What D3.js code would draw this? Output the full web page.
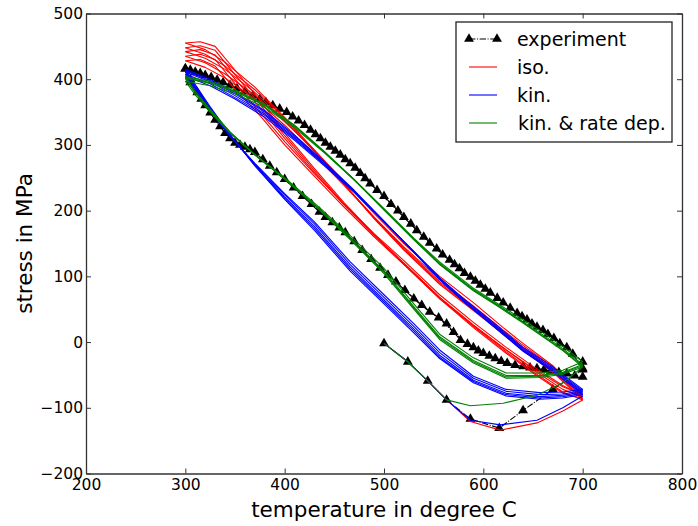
<!DOCTYPE html>
<html><head><meta charset="utf-8">
<script src="https://cdn.jsdelivr.net/npm/d3@7"></script>
<style>body{margin:0;background:#fff}svg{display:block}text{font-family:"DejaVu Sans",sans-serif;fill:#000}</style>
</head><body><svg id="c" width="698" height="526"></svg>
<script>
// ---- data (temperature °C, stress MPa) ----
const xTicks=[200,300,400,500,600,700,800];
const yTicks=[-200,-100,0,100,200,300,400,500];
const seriesNames=["experiment","iso.","kin.","kin. & rate dep."];
const seriesColors=["#000000","#ff0000","#0000ff","#008000"];

const expInitial=[[500,-2],[524,-30],[544,-59],[563,-88],[587,-117],[616,-131],[640,-104],[670,-72],[700,-42]];
const expCool1=[[700,-40],[690,-18],[677,-2],[665,12],[654,23],[644,34],[634,44],[620,60],[607,75],[597,87],[587,99],[576,112],[566,125],[553,142],[540,160],[527,180],[514,200],[500,222],[486,241],[476,257],[466,272],[456,285],[446,297],[436,310],[426,323],[414,337],[402,350],[388,360],[375,370],[360,381],[345,391],[332,399],[320,406],[310,411],[300,416]];
const expHeat1=[[300,416],[305,400],[312,380],[320,360],[330,338],[340,318],[350,303],[360,297],[370,289],[385,268],[400,248],[418,222],[435,198],[448,182],[461,167],[478,140],[496,113],[512,92],[530,66],[546,46],[563,28],[577,3],[590,-8],[600,-17],[612,-25],[624,-32],[640,-37],[654,-40],[668,-44],[684,-48],[700,-53]];
const expCool2=[[700,-30],[684,-8],[671,6],[660,18],[649,28],[639,39],[627,52],[614,67],[602,81],[592,93],[581,105],[571,118],[559,133],[546,151],[533,170],[520,190],[507,210],[493,231],[481,249],[471,265],[461,278],[451,291],[441,303],[431,316],[420,330],[408,343],[395,355],[381,365],[368,375],[352,386],[338,395],[326,403],[315,409],[305,414]];
const expHeat2=[[305,395],[316,370],[325,349],[335,328],[345,310],[355,300],[365,293],[378,278],[392,258],[409,235],[427,210],[441,190],[455,174],[470,153],[487,126],[504,102],[521,79],[538,56],[555,37],[570,15],[584,-3],[595,-13],[606,-21],[618,-29],[632,-35],[647,-39],[661,-42],[676,-46],[692,-51]];

const isoInitial=[[500,-2],[524,-30],[544,-59],[563,-88],[587,-121],[617,-134],[654,-123],[680,-105],[700,-88]];
const isoCool1=[[700,-80],[670,-38],[640,-5],[620,18],[590,55],[556,95],[520,145],[490,190],[460,238],[430,285],[400,330],[370,370],[340,402],[320,418],[300,428]];
const isoHeat1=[[300,428],[315,430],[330,420],[350,385],[375,345],[400,300],[430,252],[460,205],[490,160],[520,118],[556,66],[590,25],[623,-12],[650,-40],[680,-68],[700,-80]];
const isoCool2=[[700,-84],[670,-42],[640,-8],[620,16],[590,52],[556,92],[520,143],[490,190],[460,240],[430,290],[400,337],[370,380],[340,415],[320,432],[300,442]];
const isoHeat2=[[300,442],[315,445],[330,437],[350,400],[375,357],[400,310],[430,258],[460,208],[490,162],[520,120],[556,68],[590,26],[623,-12],[650,-42],[680,-72],[700,-84]];
const isoCool3=[[700,-88],[670,-46],[640,-12],[620,12],[590,48],[556,88],[520,140],[490,188],[460,240],[430,292],[400,342],[370,388],[340,426],[320,445],[300,455]];
const isoHeat3=[[300,455],[315,457],[330,450],[350,414],[375,368],[400,318],[430,264],[460,212],[490,164],[520,120],[556,68],[590,24],[623,-15],[650,-45],[680,-76],[700,-88]];
const isoCool4=[[700,-82],[670,-36],[640,-2],[620,22],[590,60],[556,100],[520,150],[490,196],[460,244],[430,292],[400,335],[370,376],[340,408],[320,425],[300,435]];
const isoHeat4=[[300,435],[315,438],[330,430],[350,393],[375,350],[400,305],[430,256],[460,210],[490,165],[520,124],[556,72],[590,30],[623,-8],[650,-37],[680,-66],[700,-82]];
const isoCool5=[[700,-86],[670,-44],[640,-10],[620,14],[590,50],[556,90],[520,141],[490,189],[460,240],[430,291],[400,340],[370,384],[340,420],[320,438],[300,448]];
const isoHeat5=[[300,448],[315,451],[330,444],[350,407],[375,362],[400,314],[430,261],[460,210],[490,163],[520,119],[556,66],[590,22],[623,-17],[650,-47],[680,-78],[700,-86]];

const kinInitial=[[500,-2],[524,-30],[544,-59],[563,-88],[587,-119],[617,-126],[654,-119],[680,-100],[700,-82]];
const kinCool1=[[700,-72],[670,-38],[640,-8],[610,30],[580,66],[556,98],[530,138],[500,183],[470,228],[440,268],[410,307],[380,342],[350,370],[325,390],[300,405]];
const kinHeat1=[[300,405],[310,383],[325,352],[345,313],[370,272],[400,226],[430,183],[466,122],[500,72],[530,28],[556,-12],[590,-52],[623,-72],[657,-77],[680,-76],[700,-72]];
const kinCool2=[[700,-76],[670,-42],[640,-12],[610,26],[580,63],[556,96],[530,137],[500,183],[470,229],[440,271],[410,311],[380,347],[350,375],[325,396],[300,411]];
const kinHeat2=[[300,411],[310,388],[325,355],[345,314],[370,270],[400,221],[430,176],[466,114],[500,64],[530,20],[556,-20],[590,-58],[623,-78],[657,-83],[680,-81],[700,-76]];
const kinCool3=[[700,-80],[670,-45],[640,-14],[610,24],[580,62],[556,95],[530,137],[500,184],[470,231],[440,274],[410,315],[380,352],[350,380],[325,400],[300,415]];
const kinHeat3=[[300,415],[310,392],[325,358],[345,316],[370,268],[400,217],[430,170],[466,108],[500,58],[530,14],[556,-25],[590,-62],[623,-82],[657,-87],[680,-85],[700,-80]];
const kinCool4=[[700,-74],[670,-40],[640,-10],[610,28],[580,65],[556,97],[530,138],[500,183],[470,229],[440,270],[410,309],[380,345],[350,372],[325,393],[300,408]];
const kinHeat4=[[300,408],[310,386],[325,354],[345,314],[370,271],[400,224],[430,180],[466,118],[500,68],[530,24],[556,-16],[590,-55],[623,-75],[657,-80],[680,-79],[700,-74]];
const kinCool5=[[700,-78],[670,-44],[640,-13],[610,25],[580,62],[556,95],[530,137],[500,184],[470,230],[440,273],[410,313],[380,350],[350,378],[325,398],[300,413]];
const kinHeat5=[[300,413],[310,390],[325,357],[345,315],[370,269],[400,219],[430,173],[466,111],[500,61],[530,17],[556,-23],[590,-60],[623,-80],[657,-85],[680,-83],[700,-78]];

const rateInitial=[[500,-2],[524,-30],[544,-59],[563,-88],[587,-97],[620,-93],[654,-81],[680,-62],[700,-38]];
const rateCool1=[[700,-30],[680,-7],[660,14],[640,34],[615,58],[590,82],[556,122],[530,158],[500,203],[470,247],[440,288],[410,326],[380,357],[350,378],[325,390],[300,397]];
const rateHeat1=[[300,397],[310,376],[325,350],[345,318],[370,285],[400,250],[435,205],[466,162],[500,112],[530,58],[556,12],[590,-24],[623,-47],[657,-47],[680,-43],[700,-30]];
const rateCool2=[[700,-34],[680,-10],[660,11],[640,31],[615,56],[590,80],[556,120],[530,157],[500,202],[470,247],[440,289],[410,328],[380,360],[350,381],[325,394],[300,401]];
const rateHeat2=[[300,401],[310,379],[325,352],[345,319],[370,285],[400,249],[435,203],[466,159],[500,108],[530,54],[556,8],[590,-28],[623,-51],[657,-51],[680,-46],[700,-34]];
const rateCool3=[[700,-38],[680,-13],[660,8],[640,29],[615,54],[590,78],[556,118],[530,156],[500,201],[470,247],[440,290],[410,330],[380,362],[350,384],[325,397],[300,404]];
const rateHeat3=[[300,404],[310,381],[325,354],[345,320],[370,285],[400,248],[435,201],[466,156],[500,104],[530,50],[556,4],[590,-32],[623,-55],[657,-54],[680,-49],[700,-38]];
const rateCool4=[[700,-36],[680,-12],[660,9],[640,30],[615,55],[590,79],[556,119],[530,156],[500,202],[470,247],[440,289],[410,329],[380,361],[350,382],[325,395],[300,402]];
const rateHeat4=[[300,402],[310,380],[325,353],[345,319],[370,285],[400,248],[435,202],[466,157],[500,106],[530,52],[556,6],[590,-30],[623,-53],[657,-52],[680,-47],[700,-36]];

// ---- layout ----
const W=698,H=526,m={l:86,r:16,t:13.5,b:52.5};
const svg=d3.select("#c");
const x=d3.scaleLinear().domain([200,800]).range([m.l,W-m.r]);
const y=d3.scaleLinear().domain([-200,500]).range([H-m.b,m.t]);
const line=d3.line().x(d=>x(d[0])).y(d=>y(d[1]));

const plot=svg.append("g");
function drawPaths(arrs,color,dash){
  arrs.forEach(a=>plot.append("path").attr("d",line(a)).attr("fill","none")
    .attr("stroke",color).attr("stroke-width",1.1).attr("stroke-dasharray",dash||null)
    .attr("stroke-linejoin","round"));
}
const expAll=[expInitial,expCool1,expHeat1,expCool2,expHeat2];
drawPaths(expAll,seriesColors[0],"6.4,1.6,1,1.6");
const tri=d3.symbol().type(d3.symbolTriangle).size(42);
expAll.forEach(a=>plot.selectAll(null).data(a).enter().append("path")
  .attr("d",tri).attr("transform",d=>`translate(${x(d[0])},${y(d[1])})`).attr("fill","#000"));
drawPaths([isoInitial,isoCool1,isoHeat1,isoCool2,isoHeat2,isoCool3,isoHeat3,isoCool4,isoHeat4,isoCool5,isoHeat5],seriesColors[1]);
drawPaths([kinInitial,kinCool1,kinHeat1,kinCool2,kinHeat2,kinCool3,kinHeat3,kinCool4,kinHeat4,kinCool5,kinHeat5],seriesColors[2]);
drawPaths([rateInitial,rateCool1,rateHeat1,rateCool2,rateHeat2,rateCool3,rateHeat3,rateCool4,rateHeat4],seriesColors[3]);

// ---- axes (classic matplotlib: inward ticks on all sides) ----
const fmt=d=>d<0?"\u2212"+Math.abs(d):String(d);
const ax=svg.append("g");
ax.append("g").attr("transform",`translate(0,${y(-200)})`)
  .call(d3.axisBottom(x).tickValues(xTicks).tickSizeInner(-5).tickSizeOuter(0).tickPadding(5).tickFormat(fmt));
ax.append("g").attr("transform",`translate(0,${y(500)})`)
  .call(d3.axisTop(x).tickValues(xTicks).tickSizeInner(-5).tickSizeOuter(0).tickFormat(""));
ax.append("g").attr("transform",`translate(${x(200)},0)`)
  .call(d3.axisLeft(y).tickValues(yTicks).tickSizeInner(-5).tickSizeOuter(0).tickPadding(3).tickFormat(fmt));
ax.append("g").attr("transform",`translate(${x(800)},0)`)
  .call(d3.axisRight(y).tickValues(yTicks).tickSizeInner(-5).tickSizeOuter(0).tickFormat(""));
ax.selectAll(".domain").attr("stroke","#333").attr("stroke-width",1.3);
ax.selectAll(".tick line").attr("stroke","#333");
ax.selectAll(".tick text").attr("font-size",15.5).attr("font-family","DejaVu Sans").attr("fill","#000");

svg.append("text").attr("x",(x(200)+x(800))/2).attr("y",H-9).attr("text-anchor","middle")
  .attr("font-size",21.5).text("temperature in degree C");
svg.append("text").attr("transform",`translate(32,${(y(-200)+y(500))/2}) rotate(-90)`)
  .attr("text-anchor","middle").attr("font-size",21.5).text("stress in MPa");

// ---- legend ----
const lg=svg.append("g");
lg.append("rect").attr("x",456).attr("y",22).attr("width",216).attr("height",120)
  .attr("fill","#fff").attr("stroke","#222").attr("stroke-width",1.3);
const rowY=[39,67,95,123];
seriesNames.forEach((n,i)=>{
  lg.append("line").attr("x1",469).attr("x2",497).attr("y1",rowY[i]).attr("y2",rowY[i])
    .attr("stroke",seriesColors[i]).attr("stroke-width",1.1)
    .attr("stroke-dasharray",i===0?"6.4,1.6,1,1.6":null);
  if(i===0){[469,497].forEach(px=>lg.append("path").attr("d",tri)
    .attr("transform",`translate(${px},${rowY[i]})`).attr("fill","#000"));}
  lg.append("text").attr("x",i===3?518:517).attr("y",rowY[i]).attr("dy","0.35em")
    .attr("font-size",19).text(n);
});
</script></body></html>
